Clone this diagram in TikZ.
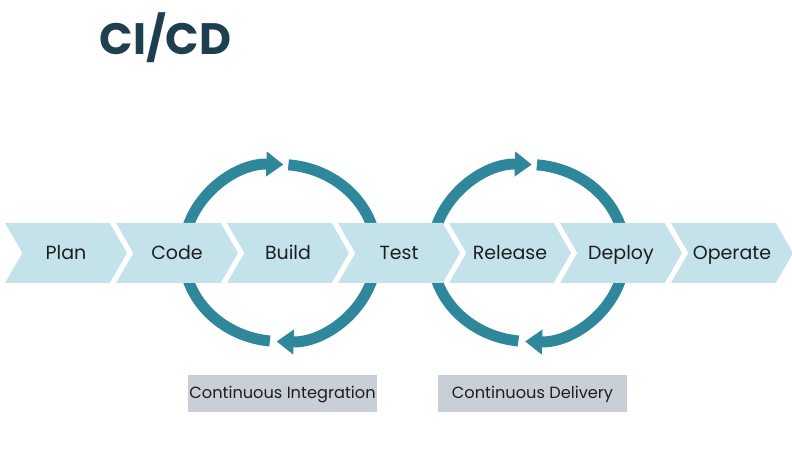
\documentclass[tikz,border=0pt]{standalone}
\usepackage{fontspec}
\setmainfont{Poppins}
\usetikzlibrary{shapes.symbols,arrows.meta}

\definecolor{chevblue}{HTML}{C4E2EA}
\definecolor{cycleteal}{HTML}{2F879B}
\definecolor{titleblue}{HTML}{1D3F4F}
\definecolor{boxgray}{HTML}{C9CFD7}
\definecolor{inkdark}{HTML}{1E1E1E}

\tikzset{
  stage/.style={shape=signal, signal from=west, signal to=east,
    signal pointer angle=120, fill=chevblue, inner sep=0pt,
    minimum width=122pt, minimum height=60pt,
    text height=17.3pt, text depth=4pt,
    text=inkdark, font=\fontsize{19}{22}\selectfont},
  loopline/.style={draw=cycleteal, line width=11pt},
  looptip/.style={loopline, -{Triangle[width=24pt,length=17pt]}},
  phase/.style={fill=boxgray, minimum width=189pt, minimum height=37pt,
    inner sep=0pt, text height=15pt, text depth=4pt,
    text=inkdark, font=\fontsize{16.2}{19}\selectfont}
}

\begin{document}
\begin{tikzpicture}[x=1pt,y=1pt]
	\useasboundingbox (0,0) rectangle (792,457);
	\node[anchor=west, text=titleblue, font=\fontsize{44}{50}\selectfont\bfseries] (title) at (96,419) {CI/CD};
	% loop centres
	\coordinate (ci) at (280,204);
	\coordinate (cd) at (528.5,204);
	\foreach \c in {ci,cd} {
		\draw[looptip] ([shift={(165:96.5 and 88.5)}]\c) arc[start angle=165, end angle=88, x radius=96.5, y radius=88.5];
		\draw[loopline] ([shift={(85:96.5 and 88.5)}]\c) arc[start angle=85, end angle=15, x radius=96.5, y radius=88.5];
		\draw[looptip] ([shift={(-15:96.5 and 88.5)}]\c) arc[start angle=-15, end angle=-92, x radius=96.5, y radius=88.5];
		\draw[loopline] ([shift={(-96:96.5 and 88.5)}]\c) arc[start angle=-96, end angle=-165, x radius=96.5, y radius=88.5];
	}
	% stages
	\node[stage] (plan) at (66,204) {Plan};
	\node[stage] (code) at (177,204) {Code};
	\node[stage] (build) at (288,204) {Build};
	\node[stage] (test) at (399,204) {Test};
	\node[stage] (release) at (510,204) {Release};
	\node[stage] (deploy) at (621,204) {Deploy};
	\node[stage] (operate) at (732,204) {Operate};
	% phases
	\node[phase] (integration) at (282.5,63.5) {Continuous Integration};
	\node[phase] (delivery) at (532.5,63.5) {Continuous Delivery};
\end{tikzpicture}
\end{document}
